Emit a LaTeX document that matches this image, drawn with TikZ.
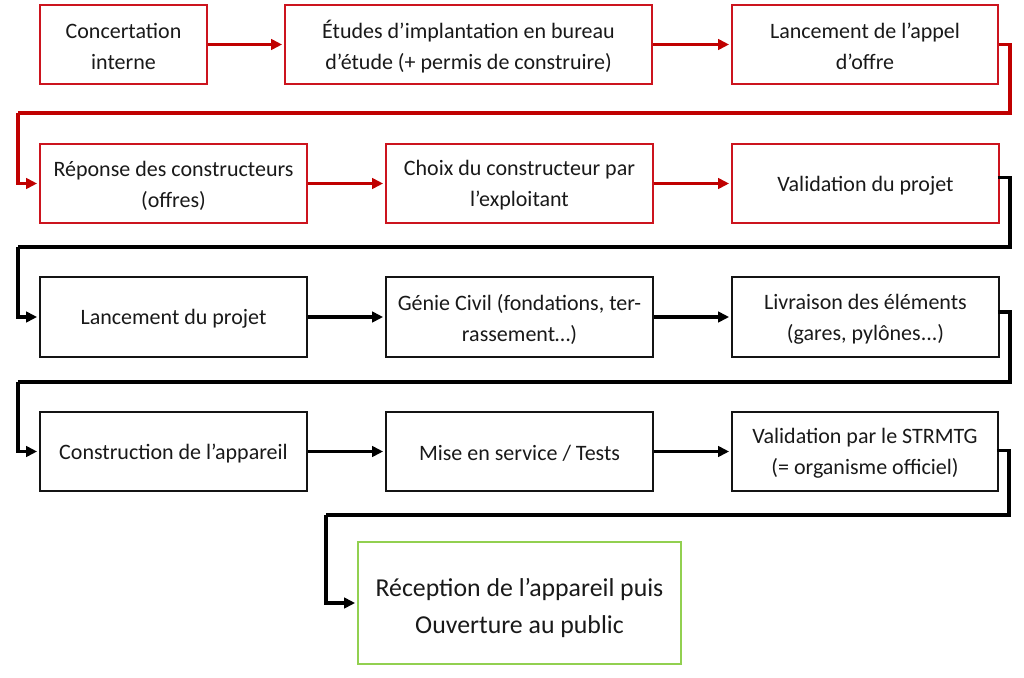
\documentclass[tikz,border=0pt]{standalone}
\usepackage{fontspec}
\setmainfont{Carlito}
\usetikzlibrary{arrows.meta}
\definecolor{boxred}{RGB}{204,20,30}
\definecolor{arrred}{RGB}{192,0,0}
\definecolor{txt}{RGB}{25,25,25}
\definecolor{boxgreen}{RGB}{146,208,80}
\definecolor{boxblack}{RGB}{20,20,20}
\begin{document}
\begin{tikzpicture}[x=1pt,y=-1pt,
  lbl/.style={inner sep=0pt,text=txt,align=center,font=\fontsize{22}{31}\selectfont,yshift=-2pt},
  base/.style={rectangle,line width=1.8pt,inner sep=0pt},
  redbox/.style={base,draw=boxred},
  blackbox/.style={base,draw=boxblack},
  greenbox/.style={base,draw=boxgreen},
  tx/.style={label={[lbl]center:{#1}}},
  gtx/.style={label={[lbl,font=\fontsize{25.8}{37}\selectfont,yshift=-3pt]center:{#1}}},
  redarr/.style={draw=arrred,line width=3.5pt,-{Triangle[length=11pt,width=10.5pt]},shorten >=2pt},
  blackarr/.style={draw=black,line width=3.5pt,-{Triangle[length=11pt,width=10.5pt]},shorten >=2pt},
  redline/.style={draw=arrred,line width=3.5pt},
  blackline/.style={draw=black,line width=3.5pt}
]
\useasboundingbox (0,0) rectangle (1024,677);
% row 1
\node[redbox,minimum width=167pt,minimum height=79pt,tx={Concertation\\interne}] (b1) at (123.5,44.5) {};
\node[redbox,minimum width=367pt,minimum height=79pt,tx={Études d’implantation en bureau\\d’étude (+ permis de construire)}] (b2) at (468.5,44.5) {};
\node[redbox,minimum width=266pt,minimum height=79pt,tx={Lancement de l’appel\\d’offre}] (b3) at (865,44.5) {};
% row 2
\node[redbox,minimum width=267pt,minimum height=79pt,tx={Réponse des constructeurs\\(offres)}] (b4) at (173.5,183.5) {};
\node[redbox,minimum width=267pt,minimum height=79pt,tx={Choix du constructeur par\\l’exploitant}] (b5) at (519.5,183.5) {};
\node[redbox,minimum width=267pt,minimum height=79pt,tx={Validation du projet}] (b6) at (865.5,183.5) {};
% row 3
\node[blackbox,minimum width=267pt,minimum height=80pt,tx={Lancement du projet}] (b7) at (173.5,317) {};
\node[blackbox,minimum width=267pt,minimum height=80pt,tx={Génie Civil (fondations, ter-\\rassement…)}] (b8) at (519.5,317) {};
\node[blackbox,minimum width=267pt,minimum height=80pt,tx={Livraison des éléments\\(gares, pylônes...)}] (b9) at (865.5,317) {};
% row 4
\node[blackbox,minimum width=267pt,minimum height=79pt,tx={Construction de l’appareil}] (b10) at (173.5,451.5) {};
\node[blackbox,minimum width=267pt,minimum height=79pt,tx={Mise en service / Tests}] (b11) at (519.5,451.5) {};
\node[blackbox,minimum width=266pt,minimum height=79pt,tx={Validation par le STRMTG\\(= organisme officiel)}] (b12) at (865,451.5) {};
% final
\node[greenbox,minimum width=323pt,minimum height=122pt,gtx={Réception de l’appareil puis\\Ouverture au public}] (b13) at (519.5,603) {};
% connector bends
\coordinate (r1) at (1010,113);
\coordinate (l1) at (18,113);
\coordinate (r2) at (1010,247);
\coordinate (l2) at (18,247);
\coordinate (r3) at (1010,382);
\coordinate (l3) at (18,382);
\coordinate (r4) at (1009,515);
\coordinate (l4) at (326,515);
% row 1 arrows
\draw[redarr] (b1.east) -- (b2.west);
\draw[redarr] (b2.east) -- (b3.west);
\draw[redline] (b3.east) -| (r1) -- (l1);
\draw[redarr] (l1) |- (b4.west);
% row 2
\draw[redarr] (b4.east) -- (b5.west);
\draw[redarr] (b5.east) -- (b6.west);
\draw[blackline] ([xshift=-2pt,yshift=6pt]b6.east) -| (r2) -- (l2);
\draw[blackarr] (l2) |- (b7.west);
% row 3
\draw[blackarr] (b7.east) -- (b8.west);
\draw[blackarr] (b8.east) -- (b9.west);
\draw[blackline] ([xshift=-2pt,yshift=5pt]b9.east) -| (r3) -- (l3);
\draw[blackarr] (l3) |- (b10.west);
% row 4
\draw[blackarr] (b10.east) -- (b11.west);
\draw[blackarr] (b11.east) -- (b12.west);
\draw[blackline] ([xshift=-2pt,yshift=1pt]b12.east) -| (r4) -- (l4);
\draw[blackarr] (l4) |- (b13.west);
\end{tikzpicture}
\end{document}
